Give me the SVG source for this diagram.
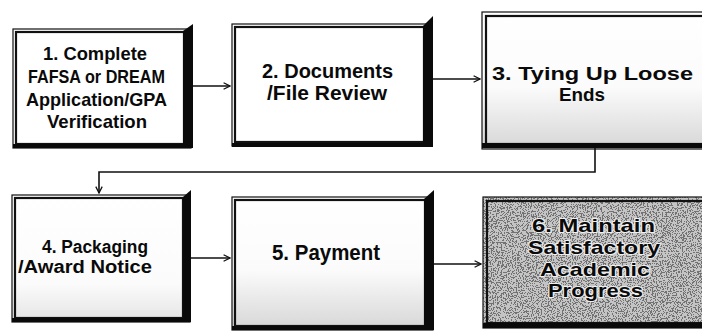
<svg xmlns="http://www.w3.org/2000/svg" width="702" height="336" viewBox="0 0 702 336">
  <defs>
    <style>
      .frame { fill: #ffffff; stroke: #111; stroke-width: 1.2; }
      .inner { fill: none; stroke: #111; stroke-width: 2.2; }
      .bar { fill: #0a0a0a; }
      .label { font-family: "Liberation Sans", Arial, sans-serif; font-weight: bold; fill: #0a0a0a; text-anchor: middle; }
      .halo { paint-order: stroke; stroke: #f0f0f0; stroke-width: 2; stroke-linejoin: round; }
      .link { fill: none; stroke: #111; stroke-width: 1.6; }
    </style>
    <marker id="arrow" viewBox="0 0 10 10" refX="9" refY="5" markerWidth="8" markerHeight="8" markerUnits="userSpaceOnUse" orient="auto">
      <path d="M1,1 L9,5 L1,9" fill="none" stroke="#111" stroke-width="1.6"/>
    </marker>
    <linearGradient id="fadeLow" x1="0" y1="0" x2="0" y2="1">
      <stop offset="0" stop-color="#ffffff"/>
      <stop offset="0.55" stop-color="#fbfbfb"/>
      <stop offset="1" stop-color="#d6d6d6"/>
    </linearGradient>
    <linearGradient id="fadeSoft" x1="0" y1="0" x2="0" y2="1">
      <stop offset="0" stop-color="#ffffff"/>
      <stop offset="0.7" stop-color="#fbfbfb"/>
      <stop offset="1" stop-color="#e4e4e4"/>
    </linearGradient>
    <!-- dithered grey grain for the last step -->
    <filter id="grain" x="0" y="0" width="1" height="1">
      <feTurbulence type="fractalNoise" baseFrequency="0.8" numOctaves="2" seed="7" result="n"/>
      <feColorMatrix in="n" type="matrix" values="0 0 0 0 0  0 0 0 0 0  0 0 0 0 0  0 0 0 -2.2 1.5" result="dots"/>
      <feComponentTransfer in="dots" result="hard">
        <feFuncA type="discrete" tableValues="0 0.7"/>
      </feComponentTransfer>
      <feFlood flood-color="#c4c4c4" result="base"/>
      <feComposite in="hard" in2="base" operator="over"/>
    </filter>
  </defs>

  <!-- step 1 -->
  <g id="step1">
    <rect class="frame" x="13" y="29" width="178" height="119"/>
    <rect class="inner" x="16" y="32" width="168" height="112"/>
    <polygon class="bar" points="183,31 193,24 193,148 183,148"/>
    <rect class="bar" x="13" y="144" width="180" height="4"/>
    <text class="label" font-size="19" x="95" y="60" textLength="104" lengthAdjust="spacingAndGlyphs">1. Complete</text>
    <text class="label" font-size="19" x="96.5" y="83" textLength="137" lengthAdjust="spacingAndGlyphs">FAFSA or DREAM</text>
    <text class="label" font-size="19" x="96.5" y="106" textLength="141" lengthAdjust="spacingAndGlyphs">Application/GPA</text>
    <text class="label" font-size="19" x="97" y="128" textLength="100" lengthAdjust="spacingAndGlyphs">Verification</text>
  </g>

  <!-- step 2 -->
  <g id="step2">
    <rect class="frame" x="232" y="24" width="200" height="122"/>
    <rect class="inner" x="235" y="27" width="189" height="115"/>
    <polygon class="bar" points="423,26 433,16 433,147 423,147"/>
    <rect class="bar" x="232" y="143" width="201" height="4"/>
    <text class="label" font-size="19.5" x="327.5" y="78" textLength="131" lengthAdjust="spacingAndGlyphs">2. Documents</text>
    <text class="label" font-size="19.5" x="327" y="100" textLength="120" lengthAdjust="spacingAndGlyphs">/File Review</text>
  </g>

  <!-- step 3 -->
  <g id="step3">
    <rect class="frame" x="482" y="12" width="226" height="137" style="fill:url(#fadeLow)"/>
    <rect class="inner" x="486" y="16" width="222" height="128"/>
    <rect class="bar" x="482" y="143" width="226" height="5"/>
    <text class="label" font-size="18.5" x="592.5" y="80" textLength="201" lengthAdjust="spacingAndGlyphs">3. Tying Up Loose</text>
    <text class="label" font-size="18.5" x="582" y="101" textLength="46" lengthAdjust="spacingAndGlyphs">Ends</text>
  </g>

  <!-- step 4 -->
  <g id="step4">
    <rect class="frame" x="12" y="195" width="178" height="127" style="fill:url(#fadeSoft)"/>
    <rect class="inner" x="15" y="198" width="168" height="120"/>
    <polygon class="bar" points="183,197 191,190 191,322 183,322"/>
    <rect class="bar" x="12" y="318" width="179" height="4"/>
    <text class="label" font-size="17.5" x="95" y="253" textLength="106" lengthAdjust="spacingAndGlyphs">4. Packaging</text>
    <text class="label" font-size="17.5" x="85" y="273" textLength="134" lengthAdjust="spacingAndGlyphs">/Award Notice</text>
  </g>

  <!-- step 5 -->
  <g id="step5">
    <rect class="frame" x="232" y="197" width="201" height="133" style="fill:url(#fadeLow)"/>
    <rect class="inner" x="235" y="200" width="190" height="126"/>
    <polygon class="bar" points="424,199 434,190 434,330 424,330"/>
    <rect class="bar" x="232" y="326" width="202" height="4"/>
    <text class="label" font-size="22" x="326" y="260" textLength="108" lengthAdjust="spacingAndGlyphs">5. Payment</text>
  </g>

  <!-- step 6 -->
  <g id="step6">
    <rect x="483" y="197" width="225" height="131" fill="#a8a8a8" filter="url(#grain)"/>
    <rect x="483" y="197" width="225" height="131" fill="none" stroke="#111" stroke-width="1.2"/>
    <rect class="inner" x="487" y="201" width="221" height="122"/>
    <rect class="bar" x="483" y="323" width="225" height="5"/>
    <text class="label halo" font-size="18.5" x="593.5" y="232" textLength="123" lengthAdjust="spacingAndGlyphs">6. Maintain</text>
    <text class="label halo" font-size="18.5" x="594" y="254" textLength="132" lengthAdjust="spacingAndGlyphs">Satisfactory</text>
    <text class="label halo" font-size="18.5" x="595" y="276" textLength="110" lengthAdjust="spacingAndGlyphs">Academic</text>
    <text class="label halo" font-size="18.5" x="595.5" y="297" textLength="95" lengthAdjust="spacingAndGlyphs">Progress</text>
  </g>

  <!-- connectors -->
  <g id="connectors">
    <line class="link" x1="193" y1="86" x2="230" y2="86" marker-end="url(#arrow)"/>
    <line class="link" x1="433" y1="79" x2="480" y2="79" marker-end="url(#arrow)"/>
    <polyline class="link" points="595,148 595,172 99,172 99,193" marker-end="url(#arrow)"/>
    <line class="link" x1="191" y1="258" x2="230" y2="258" marker-end="url(#arrow)"/>
    <line class="link" x1="434" y1="264" x2="481" y2="264" marker-end="url(#arrow)"/>
  </g>
</svg>
